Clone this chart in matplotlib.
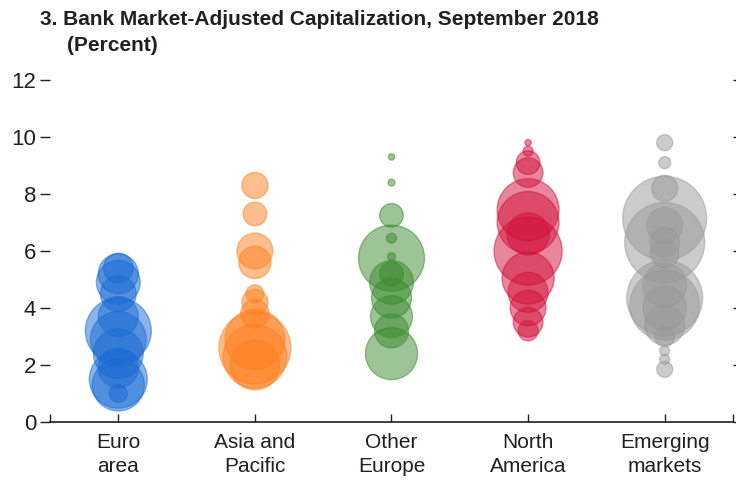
import numpy as np
import matplotlib
matplotlib.use("Agg")
from matplotlib import pyplot as plt
from matplotlib import font_manager

# categories and tick labels
categories = ["Euro\narea", "Asia and\nPacific", "Other\nEurope", "North\nAmerica", "Emerging\nmarkets"]
y_ticks = [0, 2, 4, 6, 8, 10, 12]

# bank capitalization (percent) and relative bank size (bubble area) per region
euro_cap = [5.4, 5.2, 4.9, 4.5, 3.7, 3.2, 2.9, 2.4, 1.9, 1.5, 1.3, 1.0]
euro_size = [22, 40, 48, 32, 40, 109, 78, 62, 40, 84, 68, 8]

asia_cap = [8.3, 7.3, 6.0, 5.6, 4.5, 4.2, 3.8, 2.9, 2.6, 2.3, 2.0]
asia_size = [17, 14, 32, 26, 8, 17, 20, 90, 130, 102, 62]

oeur_cap = [9.3, 8.4, 7.25, 6.45, 5.8, 5.75, 5.2, 4.9, 4.35, 3.7, 3.2, 2.4]
oeur_size = [1, 1.2, 14, 2.5, 1.6, 109, 14, 48, 40, 44, 29, 68]

nam_cap = [9.8, 9.5, 9.1, 8.75, 7.45, 7.0, 6.6, 6.0, 5.05, 4.55, 4.0, 3.5, 3.2]
nam_size = [1, 2.5, 14, 22, 96, 96, 45, 116, 68, 40, 32, 22, 10]

em_cap = [9.8, 9.1, 8.2, 7.15, 6.9, 6.3, 6.3, 5.9, 4.8, 4.35, 4.1, 4.0, 3.4, 3.0, 2.5, 2.2, 1.85]
em_size = [6.4, 3.6, 17, 176, 32, 160, 22, 20, 48, 144, 122, 48, 40, 10, 2.5, 2.5, 6.4]

colors = ["#1a6bd4", "#ff7f1e", "#3a8a2c", "#d3103a", "#999999"]


def main():
    # pick a condensed font if available
    names = {f.name for f in font_manager.fontManager.ttflist}
    font = "Liberation Sans Narrow" if "Liberation Sans Narrow" in names else "Liberation Sans"
    plt.rcParams["font.family"] = [font, "DejaVu Sans"]

    fig = plt.figure(figsize=(7.36, 4.84), dpi=100)
    ax = fig.add_axes([50 / 736, 1 - 422 / 484, 683 / 736, 342 / 484])

    caps = [euro_cap, asia_cap, oeur_cap, nam_cap, em_cap]
    sizes = [euro_size, asia_size, oeur_size, nam_size, em_size]

    # draw bubbles, one group per region
    for i, (cap, size, col) in enumerate(zip(caps, sizes, colors)):
        x = np.full(len(cap), i + 1)
        s = np.array(size) * 20.7
        ax.scatter(x, cap, s=s, color=col, alpha=0.5, edgecolors=col, linewidths=1.0, zorder=3)

    ax.set_xlim(0.5, 5.5)
    ax.set_ylim(0, 12)

    # x axis: small inward ticks, labels under each region
    ax.set_xticks([0.5, 1, 2, 3, 4, 5, 5.5])
    ax.set_xticklabels([""] + categories + [""], fontsize=15, color="#231f20", linespacing=1.3)
    ax.tick_params(axis="x", direction="in", length=6, width=1, pad=8, color="#231f20")

    # y axis ticks on both sides, outward
    ax.set_yticks(y_ticks)
    ax.tick_params(axis="y", direction="out", length=7, width=1, pad=3, labelsize=16,
                   left=True, right=True, labelright=False, color="#231f20", labelcolor="#231f20")

    for side in ["left", "right", "top"]:
        ax.spines[side].set_visible(False)
    ax.spines["bottom"].set_linewidth(1.2)
    ax.spines["bottom"].set_color("#231f20")

    # title
    fig.text(40 / 736, 1 - 10 / 484, "3. Bank Market-Adjusted Capitalization, September 2018",
             fontsize=15, fontweight="bold", ha="left", va="top", color="#231f20")
    fig.text(67 / 736, 1 - 36 / 484, "(Percent)",
             fontsize=15, fontweight="bold", ha="left", va="top", color="#231f20")

    fig.savefig("out.png", dpi=100)


if __name__ == "__main__":
    main()
